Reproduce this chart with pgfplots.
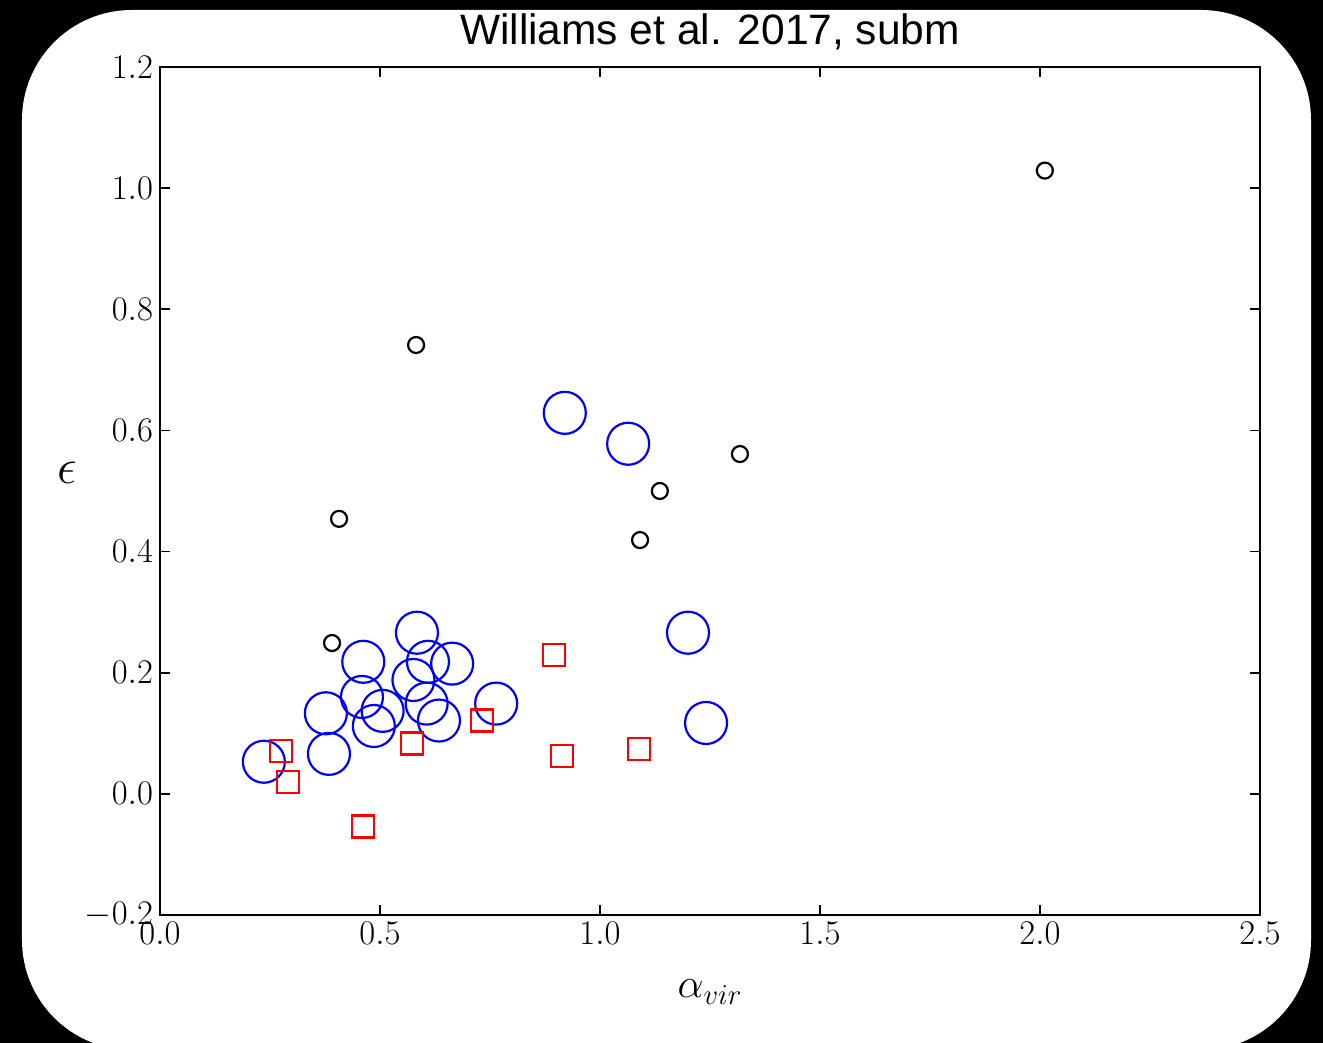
\documentclass[border=0pt]{standalone}
\usepackage{fontspec}
\usepackage{pgfplots}
\pgfplotsset{compat=1.18}
\newfontfamily\titlefont{Liberation Sans}

% alpha_vir, epsilon
\pgfplotstableread{
a e
0.582 0.741
2.011 1.029
1.318 0.561
1.136 0.500
1.091 0.419
0.407 0.454
0.391 0.249
}\blackpts

\pgfplotstableread{
a e
0.920 0.629
1.064 0.578
1.200 0.266
1.241 0.117
0.236 0.053
0.384 0.066
0.377 0.133
0.462 0.218
0.459 0.160
0.486 0.112
0.506 0.137
0.584 0.266
0.609 0.218
0.576 0.188
0.664 0.215
0.606 0.149
0.634 0.121
0.764 0.149
}\bluepts

\pgfplotstableread{
a e
0.275 0.071
0.291 0.020
0.462 -0.054
0.573 0.083
0.732 0.121
0.895 0.229
0.914 0.063
1.089 0.074
}\redpts

\begin{document}
\begin{tikzpicture}[x=1pt,y=1pt]
% dark frame with a rounded white card
\fill[black] (-80,-64) rectangle (581.5,457.5);
\begin{scope}
  \clip (-80,-64) rectangle (581.5,457.5);
  \fill[white, rounded corners=55pt] (-69,-67.5) rectangle (575.5,452.5);
\end{scope}
\begin{axis}[
  at={(0,0)}, anchor=south west,
  scale only axis, width=550pt, height=424pt,
  xmin=0, xmax=2.5, ymin=-0.2, ymax=1.2,
  xtick={0,0.5,1,1.5,2,2.5},
  ytick={-0.2,0,0.2,0.4,0.6,0.8,1.0,1.2},
  minor tick num=0,
  tick align=inside,
  major tick length=5pt,
  every tick/.style={black, line width=0.8pt},
  axis line style={line width=1pt},
  tick label style={font=\fontsize{17.5}{19}\selectfont},
  /pgf/number format/.cd, fixed, fixed zerofill, precision=1,
  /pgfplots/.cd,
  xlabel={$\alpha_{vir}$},
  ylabel={$\epsilon$},
  xlabel style={font=\fontsize{22.5}{24}\selectfont, at={(axis description cs:0.5,0)}, anchor=base, yshift=-41.5pt},
  ylabel style={font=\fontsize{25}{27}\selectfont, at={(axis description cs:0,0.522)}, anchor=center, rotate=-90, xshift=-46.5pt},
  title={Williams et al. 2017, subm},
  title style={font=\titlefont\fontsize{21.25}{24}\selectfont, at={(axis description cs:0.5,1)}, anchor=base, yshift=5pt},
  clip=false,
]
\addplot[only marks, mark=o, mark size=4pt, draw=black, line width=1.1pt] table[x=a, y=e] {\blackpts};
\addplot[only marks, mark=o, mark size=10.5pt, draw=blue, line width=1.1pt] table[x=a, y=e] {\bluepts};
\addplot[only marks, mark=square, mark size=5.5pt, draw=red, line width=1.1pt] table[x=a, y=e] {\redpts};
\end{axis}
\pgfresetboundingbox
\useasboundingbox (-80,-64) rectangle (581.5,457.5);
\end{tikzpicture}
\end{document}
